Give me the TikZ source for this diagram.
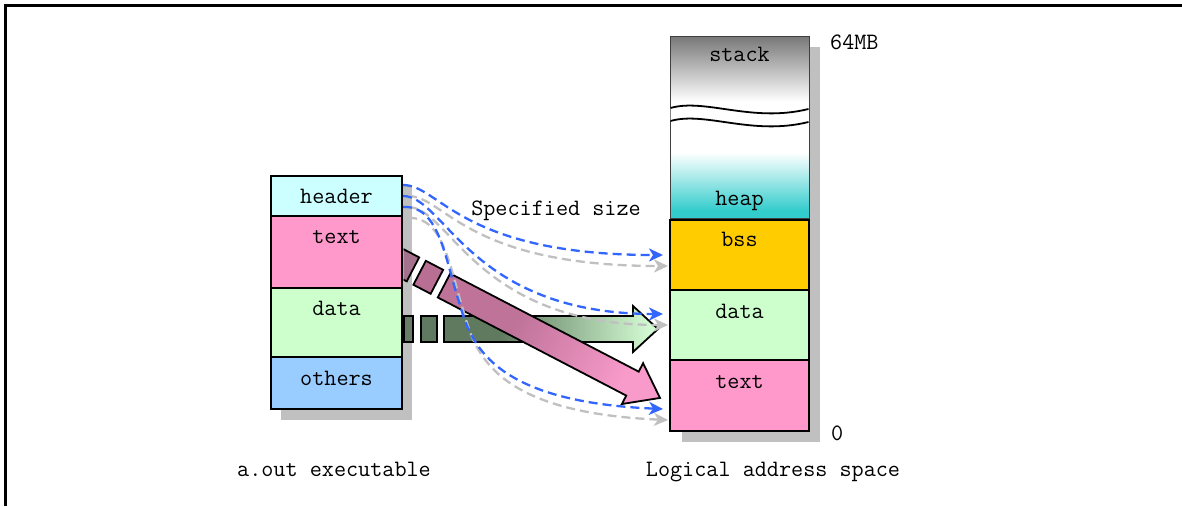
\documentclass[tikz,border=0pt]{standalone}
\usepackage{fontspec}
\usetikzlibrary{arrows.meta}
\definecolor{cheader}{HTML}{CCFFFF}
\definecolor{ctext}{HTML}{FF99CC}
\definecolor{cdata}{HTML}{CCFFCC}
\definecolor{cothers}{HTML}{99CCFF}
\definecolor{cbss}{HTML}{FFCC00}
\definecolor{cshadow}{HTML}{C0C0C0}
\definecolor{cblue}{HTML}{3366FF}
\definecolor{cgrayd}{HTML}{C0C0C0}
\definecolor{cteal}{HTML}{33CCCC}
\definecolor{cgraytop}{HTML}{777777}
\definecolor{gdark}{HTML}{5F7A5F}
\definecolor{glight}{HTML}{D2FAD2}
\definecolor{gpiece}{HTML}{5F7A60}
\definecolor{gpieceone}{HTML}{6A7C6A}
\definecolor{pdark}{HTML}{BF7399}
\definecolor{plight}{HTML}{F89ACA}
\definecolor{ppiece}{HTML}{B96E94}
\definecolor{ppieceone}{HTML}{A4728C}
\pgfdeclarehorizontalshading{greenarr}{100bp}{color(0bp)=(gdark); color(38bp)=(gdark); color(73bp)=(glight); color(100bp)=(glight)}
\pgfdeclarehorizontalshading{pinkarr}{100bp}{color(0bp)=(pdark); color(40bp)=(pdark); color(72bp)=(plight); color(100bp)=(plight)}
\pgfdeclareverticalshading{stackheap}{100bp}{color(0bp)=(cteal); color(27bp)=(cteal); color(43bp)=(white); color(57bp)=(white); color(75bp)=(cgraytop); color(100bp)=(cgraytop)}
\tikzset{
  lbl/.style={font=\fontsize{23.5}{27}\selectfont\ttfamily, inner sep=0pt, anchor=base},
  segbox/.style={draw=black, line width=2pt, inner sep=0pt, outer sep=0pt, anchor=north west},
  bluedash/.style={draw=cblue, line width=2.3pt, dash pattern=on 9pt off 5pt, -{Stealth[length=14pt,width=13pt,inset=4pt]}},
  graydash/.style={draw=cgrayd, line width=2.3pt, dash pattern=on 9pt off 5pt, -{Stealth[length=14pt,width=13pt,inset=4pt]}},
  arrowline/.style={draw=black, line width=1.8pt, line join=miter},
}
\begin{document}
\begin{tikzpicture}[x=1pt,y=1pt]
\useasboundingbox (0,0) rectangle (1182,-506);
% frame
\draw[line width=2.5pt] (5.5,-506) -- (5.5,-5.5) -- (1182,-5.5);
% shadows
\fill[cshadow] (281,-186) rectangle (412,-420);
\fill[cshadow] (682,-47) rectangle (820,-442);
% left stack
\node[segbox, fill=cheader, minimum width=131pt, minimum height=40pt] (hdr) at (271,-176) {};
\node[segbox, fill=ctext, minimum width=131pt, minimum height=72pt] (ltext) at (271,-216) {};
\node[segbox, fill=cdata, minimum width=131pt, minimum height=69pt] (ldata) at (271,-288) {};
\node[segbox, fill=cothers, minimum width=131pt, minimum height=52pt] (lothers) at (271,-357) {};
% right stack
\node[draw=black!75, line width=0.8pt, shade, shading=stackheap, inner sep=0pt, outer sep=0pt, anchor=north west, minimum width=139pt, minimum height=182pt] (stk) at (670,-36) {};
\node[segbox, fill=cbss, minimum width=139pt, minimum height=70pt] (bss) at (670,-220) {};
\node[segbox, fill=cdata, minimum width=139pt, minimum height=70pt] (rdata) at (670,-290) {};
\node[segbox, fill=ctext, minimum width=139pt, minimum height=71pt] (rtext) at (670,-360) {};
% wave break
\fill[white] (670.5,-108) .. controls (705,-98) and (752,-123) .. (808.5,-109) -- (808.5,-122) .. controls (752,-136) and (705,-111) .. (670.5,-121) -- cycle;
\draw[line width=1.8pt] (670.5,-108) .. controls (705,-98) and (752,-123) .. (808.5,-109);
\draw[line width=1.8pt] (670.5,-121) .. controls (705,-111) and (752,-136) .. (808.5,-122);
% green arrow (data)
\filldraw[arrowline, fill=gpieceone] (404,-316) rectangle (413,-342);
\filldraw[arrowline, fill=gpiece] (421,-316) rectangle (437,-342);
\draw[arrowline, shade, shading=greenarr] (444,-316) -- (633,-316) -- (633,-306) -- (658,-329) -- (633,-352) -- (633,-342) -- (444,-342) -- cycle;
% pink arrow (text)
\begin{scope}
  \clip (403.5,-230) rectangle (470,-310);
  \begin{scope}[shift={(444,-285.5)}, rotate=-27.5]
    \filldraw[arrowline, fill=ppieceone] (-60,13.5) -- (-35,13.5) -- (-35,-13.5) -- (-60,-13.5) -- cycle;
  \end{scope}
\end{scope}
\begin{scope}[shift={(444,-285.5)}, rotate=-27.5]
  \filldraw[arrowline, fill=ppiece] (-27.5,13.5) -- (-8,13.5) -- (-8,-13.5) -- (-27.5,-13.5) -- cycle;
  \draw[arrowline, shade, shading=pinkarr, shading angle=-27.5] (0,13.5) -- (212.5,13.5) -- (212.5,23) -- (243.5,0) -- (212.5,-23) -- (212.5,-13.5) -- (0,-13.5) -- cycle;
\end{scope}
% connector end points
\coordinate (h1) at (403,-185);
\coordinate (h2) at (403,-196);
\coordinate (h3) at (403,-207);
\coordinate (t1) at (663,-255);
\coordinate (t2) at (663,-314);
\coordinate (t3) at (663,-409);
% gray shadow dashes
\begin{scope}[transform canvas={shift={(5pt,-11pt)}}]
\draw[graydash] (h1) .. controls (440,-185) and (460,-255) .. (t1);
\draw[graydash] (h2) .. controls (445,-196) and (470,-314) .. (t2);
\draw[graydash] (h3) .. controls (440,-205) and (445,-260) .. (460,-305) .. controls (472,-350) and (500,-402) .. (t3);
\end{scope}
% blue dashes
\draw[bluedash] (h1) .. controls (440,-185) and (460,-255) .. (t1);
\draw[bluedash] (h2) .. controls (445,-196) and (470,-314) .. (t2);
\draw[bluedash] (h3) .. controls (440,-205) and (445,-260) .. (460,-305) .. controls (472,-350) and (500,-402) .. (t3);
% labels
\node[lbl] (lhdr) at (336.5,-203) {header};
\node[lbl] (ltxt) at (336.5,-243.5) {text};
\node[lbl] (ldat) at (336.5,-315) {data};
\node[lbl] (loth) at (336.5,-385) {others};
\node[lbl] (rstk) at (739.5,-61) {stack};
\node[lbl] (rhp) at (739.5,-205) {heap};
\node[lbl] (rbss) at (739.5,-246) {bss};
\node[lbl] (rdat) at (739.5,-318) {data};
\node[lbl] (rtxt) at (739.5,-388) {text};
\node[lbl, anchor=base west] (top) at (830,-49) {64MB};
\node[lbl, anchor=base west] (zero) at (831,-440) {0};
\node[lbl] (spec) at (556,-215) {Specified size};
\node[lbl] (aout) at (334,-476.5) {a.out executable};
\node[lbl] (las) at (773,-476.5) {Logical address space};
\end{tikzpicture}
\end{document}
